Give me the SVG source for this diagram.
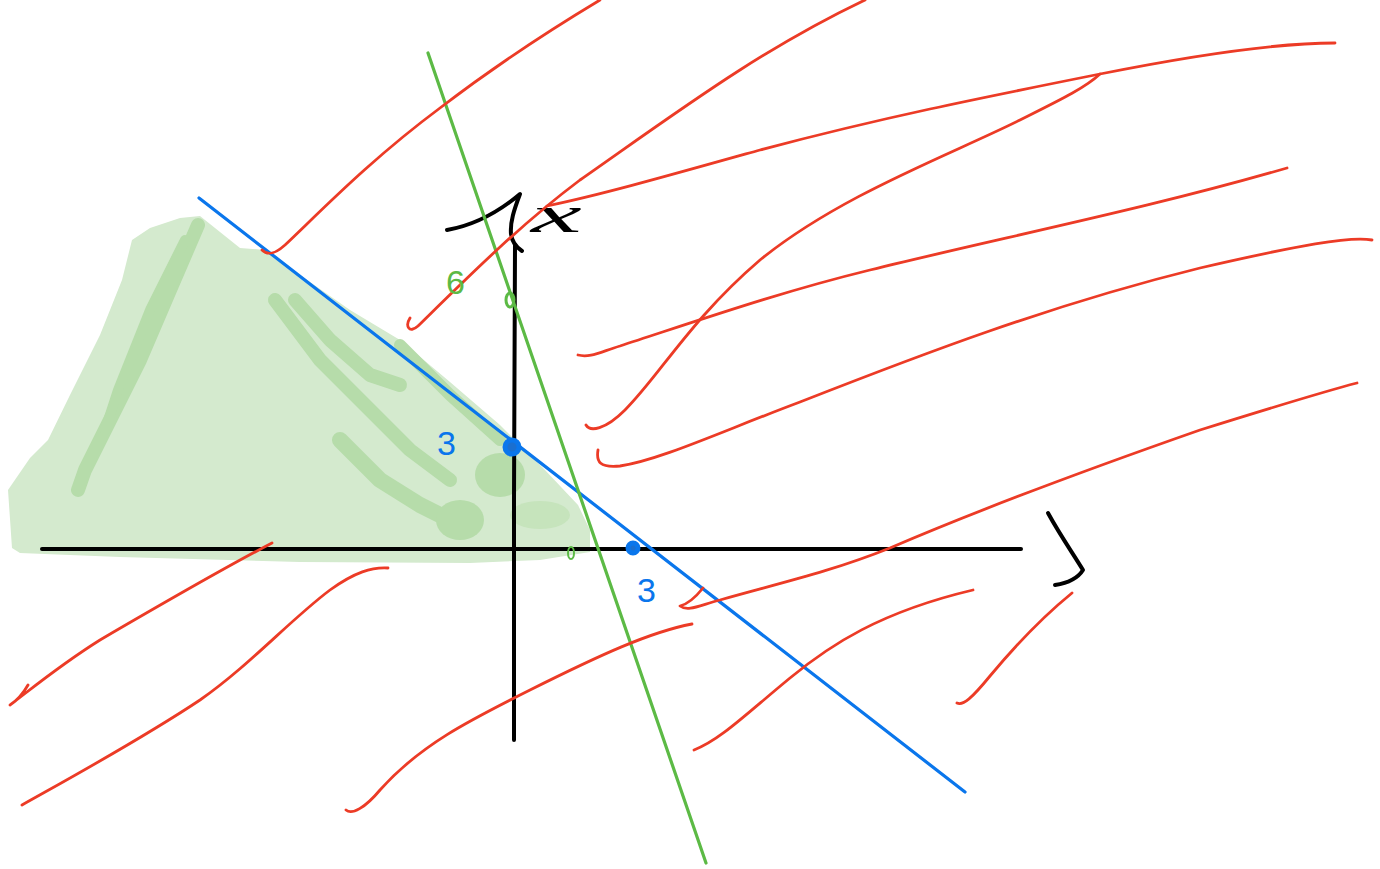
<svg xmlns="http://www.w3.org/2000/svg" width="1380" height="869" viewBox="0 0 1380 869">
<style>
.red{fill:none;stroke:#ec3b26;stroke-width:2.8;stroke-linecap:round;stroke-linejoin:round}
.shade{fill:none;stroke:#b6dcaa;stroke-linecap:round;stroke-linejoin:round}
.ink{fill:none;stroke:#000;stroke-width:4;stroke-linecap:round;stroke-linejoin:round}
.lbl{font-family:"Liberation Sans",sans-serif;font-size:34px}
</style>
<rect width="1380" height="869" fill="#fff"/>
<g id="feasible-region">
<path d="M12,548 L8,490 L30,458 L48,440 L70,395 L100,335 L122,280 L132,240 L150,228 L180,218 L200,216 L240,248 L265,250 L300,275 L350,310 L400,340 L450,382 L500,425 L545,470 L578,505 L590,530 L590,552 L540,560 L470,563 L300,562 L120,557 L20,553 Z" fill="#d4eace"/>
<path class="shade" stroke-width="14" d="M198,225 L170,290 L140,360 L110,420 L85,470 L78,490"/>
<path class="shade" stroke-width="10" d="M185,240 L150,310 L118,390 L105,430"/>
<path class="shade" stroke-width="14" d="M295,300 L330,340 L370,375 L400,385"/>
<path class="shade" stroke-width="14" d="M275,300 L320,360 L370,410 L410,450 L450,480"/>
<path class="shade" stroke-width="16" d="M340,440 L380,480 L420,505 L460,525"/>
<path class="shade" stroke-width="12" d="M400,345 L450,395 L500,440"/>
<ellipse cx="460" cy="520" rx="24" ry="20" fill="#b6dcaa"/>
<ellipse cx="500" cy="475" rx="25" ry="22" fill="#b6dcaa"/>
<ellipse cx="540" cy="515" rx="30" ry="14" fill="#c6e4bc"/>
</g>
<g id="axes">
<path class="ink" d="M42,549 L1021,549"/>
<path class="ink" d="M515,245 L514,500 L514,740"/>
<path class="ink" stroke-width="3" d="M447,230 C470,226 495,215 520,194 C514,210 510,222 511,234 C512,242 516,247 522,251"/>
<path class="ink" stroke-width="3" d="M1048,513 C1060,535 1072,552 1083,570 C1078,578 1068,583 1055,585"/>
<text x="531" y="232" style="font-family:'Liberation Serif',serif;font-size:52px;font-style:italic" transform="translate(531,232) scale(2.2,1) translate(-531,-232)">x</text>
</g>
<g id="connectors">
<path d="M199,198 L965,792" fill="none" stroke="#0a76ec" stroke-width="3.2" stroke-linecap="round"/>
<path d="M428,53 L706,863" fill="none" stroke="#5cba45" stroke-width="3.2" stroke-linecap="round"/>
<path class="red" d="M262,250 C268,256 275,254 285,245 C320,212 370,160 440,108 C500,62 550,30 600,0"/>
<path class="red" d="M410,318 C405,326 409,334 418,326 C470,275 520,225 580,180 C680,110 760,50 865,0"/>
<path class="red" d="M547,206 C600,195 660,178 760,150 C880,118 980,98 1100,74 C1200,54 1280,43 1335,43"/>
<path class="red" d="M586,425 C590,432 605,430 625,410 C660,375 690,320 760,260 C840,195 950,155 1020,120 C1060,100 1085,88 1100,74"/>
<path class="red" d="M578,355 C590,358 600,352 620,346 C700,320 780,292 870,270 C1000,238 1150,208 1287,168"/>
<path class="red" d="M598,450 C596,462 600,468 620,466 C660,460 720,432 800,402 C920,355 1050,305 1200,268 C1300,245 1350,236 1372,240"/>
<path class="red" d="M703,588 C695,598 688,604 680,606 C688,612 700,605 720,600 C780,583 830,572 890,548 C990,505 1100,465 1200,430 C1280,405 1330,390 1357,383"/>
<path class="red" stroke-width="3.6" d="M272,543 C220,570 160,605 100,640 C60,665 30,690 10,705 C18,700 24,692 28,685"/>
<path class="red" d="M22,805 C70,778 140,740 200,700 C250,665 290,620 330,590 C355,572 372,567 388,568"/>
<path class="red" d="M346,810 C352,815 365,808 380,790 C420,745 470,720 530,690 C600,655 650,632 692,624"/>
<path class="red" d="M694,750 C720,740 745,715 790,678 C830,645 880,612 973,590"/>
<path class="red" d="M957,703 C963,706 972,698 990,676 C1020,640 1045,615 1072,593"/>
</g>
<g id="labels">
<text class="lbl" x="446" y="294" fill="#5cba45">6</text>
<ellipse cx="510" cy="300" rx="4" ry="7" fill="none" stroke="#5cba45" stroke-width="3"/>
<text class="lbl" x="437" y="455" fill="#0a76ec">3</text>
<circle cx="512" cy="447" r="7" fill="#1a6fd0" stroke="#0a76ec" stroke-width="5"/>
<ellipse cx="571" cy="553" rx="3" ry="6" fill="none" stroke="#5cba45" stroke-width="2"/>
<circle cx="633" cy="548" r="5" fill="#1a6fd0" stroke="#0a76ec" stroke-width="5"/>
<text class="lbl" x="637" y="602" fill="#0a76ec">3</text>
</g>
</svg>
